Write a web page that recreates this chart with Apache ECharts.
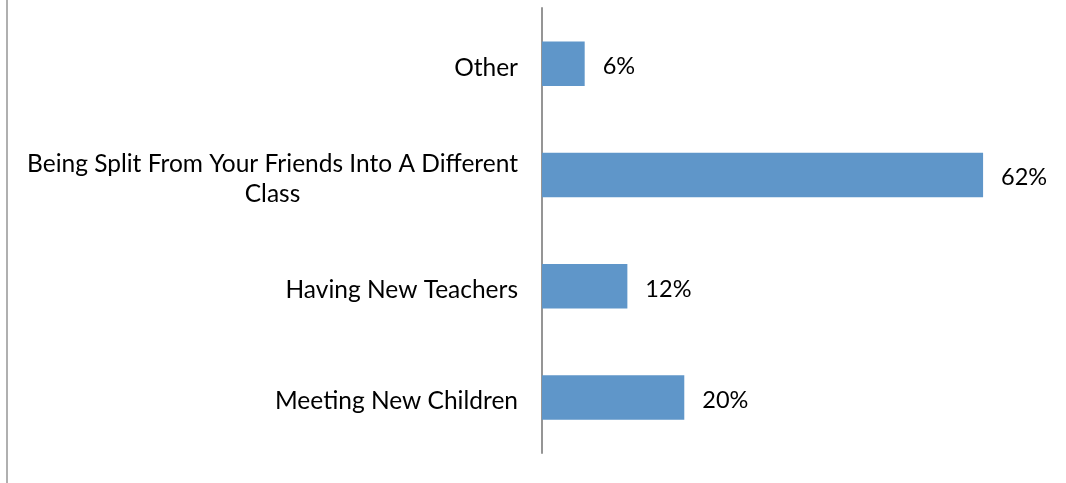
<!DOCTYPE html>
<html>
<head>
<meta charset="utf-8">
<script src="https://cdn.jsdelivr.net/npm/echarts@6/dist/echarts.min.js"></script>
<style>
html,body{margin:0;padding:0;background:#fff;}
#frame{position:absolute;left:0;top:0;width:1066px;height:483px;}
#edge{position:absolute;left:6px;top:0;width:2px;height:483px;background:#b0b0b0;}
#chart{position:absolute;left:0;top:0;width:1066px;height:483px;}
</style>
</head>
<body>
<div id="frame"><div id="edge"></div><div id="chart"></div></div>
<script>
const categories = ["Meeting New Children", "Having New Teachers", "Being Split From Your Friends Into A Different\nClass", "Other"];
const values = [20, 12, 62, 6];
const valueSuffix = "%";

const chart = echarts.init(document.getElementById('chart'));
const FONT = 'Lato';
chart.setOption({
  animation: false,
  grid: {left: 542, top: 8, width: 498, height: 445, containLabel: false},
  xAxis: {type: 'value', min: 0, max: 70, show: false},
  yAxis: {
    type: 'category', data: categories,
    axisLine: {show: true, lineStyle: {color: '#959595', width: 2}},
    axisTick: {show: false},
    axisLabel: {
      margin: 24, color: '#000', fontFamily: FONT, fontSize: 24.5, align: 'right',
      padding: [8, 0, 0, 0],
      formatter: function (v) { return v.split('\n').map(s => '{c|' + s + '}').join('\n'); },
      rich: {c: {align: 'center', fontFamily: FONT, fontSize: 24.5, color: '#000', lineHeight: 30}}
    }
  },
  series: [{
    type: 'bar', data: values, barCategoryGap: '60%',
    itemStyle: {color: '#5f96c9'},
    label: {show: true, position: 'right', distance: 18, offset: [0, 3], color: '#000', fontFamily: FONT, fontSize: 23.5,
      formatter: p => p.value + valueSuffix}
  }]
});
</script>
</body>
</html>
